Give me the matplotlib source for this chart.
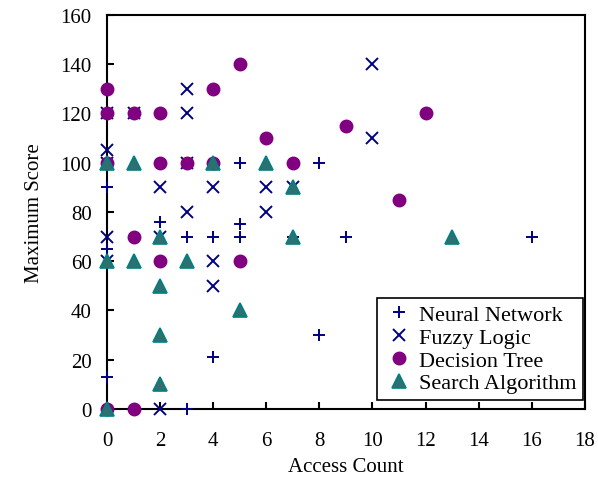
import numpy as np
import matplotlib
matplotlib.use("Agg")
import matplotlib.pyplot as plt

plt.rcParams['font.family'] = ['Liberation Serif', 'DejaVu Serif']

# Neural Network (+)
nn_x = [0, 0, 0, 0, 1, 2, 5, 8, 5, 3, 4, 5, 7, 9, 16, 4, 8, 3]
nn_y = [90, 65, 13, 0, 70, 76, 100, 100, 75, 70, 70, 70, 70, 70, 70, 21, 30, 0]

# Fuzzy Logic (x)
fl_x = [0, 1, 3, 3, 0, 0, 3, 2, 4, 6, 7, 3, 6, 0, 2, 0, 4, 4, 2, 10, 10]
fl_y = [120, 120, 130, 120, 105, 100, 100, 90, 90, 90, 90, 80, 80, 70, 70, 60, 60, 50, 0, 140, 110]

# Decision Tree (dots)
dt_x = [0, 0, 1, 2, 4, 5, 6, 9, 12, 0, 2, 3, 4, 7, 1, 2, 5, 11, 0, 1]
dt_y = [130, 120, 120, 120, 130, 140, 110, 115, 120, 100, 100, 100, 100, 100, 70, 60, 60, 85, 0, 0]

# Search Algorithm (triangles)
sa_x = [0, 1, 4, 6, 7, 0, 1, 2, 3, 2, 2, 2, 5, 7, 13, 0]
sa_y = [100, 100, 100, 100, 90, 60, 60, 70, 60, 50, 30, 10, 40, 70, 70, 0]

fig = plt.figure(figsize=(5.98, 4.85), dpi=100)
ax = fig.add_axes([0.179, 0.155, 0.799, 0.812])

ax.plot(nn_x, nn_y, linestyle='none', marker='+', ms=9, mew=1.4,
        color='#000080', label='Neural Network', clip_on=False, zorder=3)
ax.plot(fl_x, fl_y, linestyle='none', marker='x', ms=8, mew=1.4,
        color='#000080', label='Fuzzy Logic', clip_on=False, zorder=3)
ax.plot(dt_x, dt_y, linestyle='none', marker='o', ms=9,
        color='#800080', mec='#800080', label='Decision Tree', clip_on=False, zorder=4)
ax.plot(sa_x, sa_y, linestyle='none', marker='^', ms=10, mew=1.2,
        color='#2f6f6f', mec='#008080', label='Search Algorithm', clip_on=False, zorder=5)

ax.set_xlim(0, 18)
ax.set_ylim(0, 160)
ax.set_xticks(np.arange(0, 19, 2))
ax.set_yticks(np.arange(0, 161, 20))
ax.tick_params(direction='in', length=5, width=1.5, labelsize=15)
ax.tick_params(axis='x', pad=16)
ax.tick_params(axis='y', pad=11)
for s in ax.spines.values():
    s.set_linewidth(1.5)

ax.set_xlabel('Access Count', fontsize=15, labelpad=5)
ax.set_ylabel('Maximum Score', fontsize=15, labelpad=12)

leg = ax.legend(loc='lower right', bbox_to_anchor=(0.997, 0.022), fontsize=16,
                frameon=True, fancybox=False, edgecolor='black', framealpha=1,
                handletextpad=0.2, handlelength=1.4, borderpad=0.3, labelspacing=0.1,
                borderaxespad=0)
leg.get_frame().set_linewidth(1.2)

fig.savefig('out.png', dpi=100)
